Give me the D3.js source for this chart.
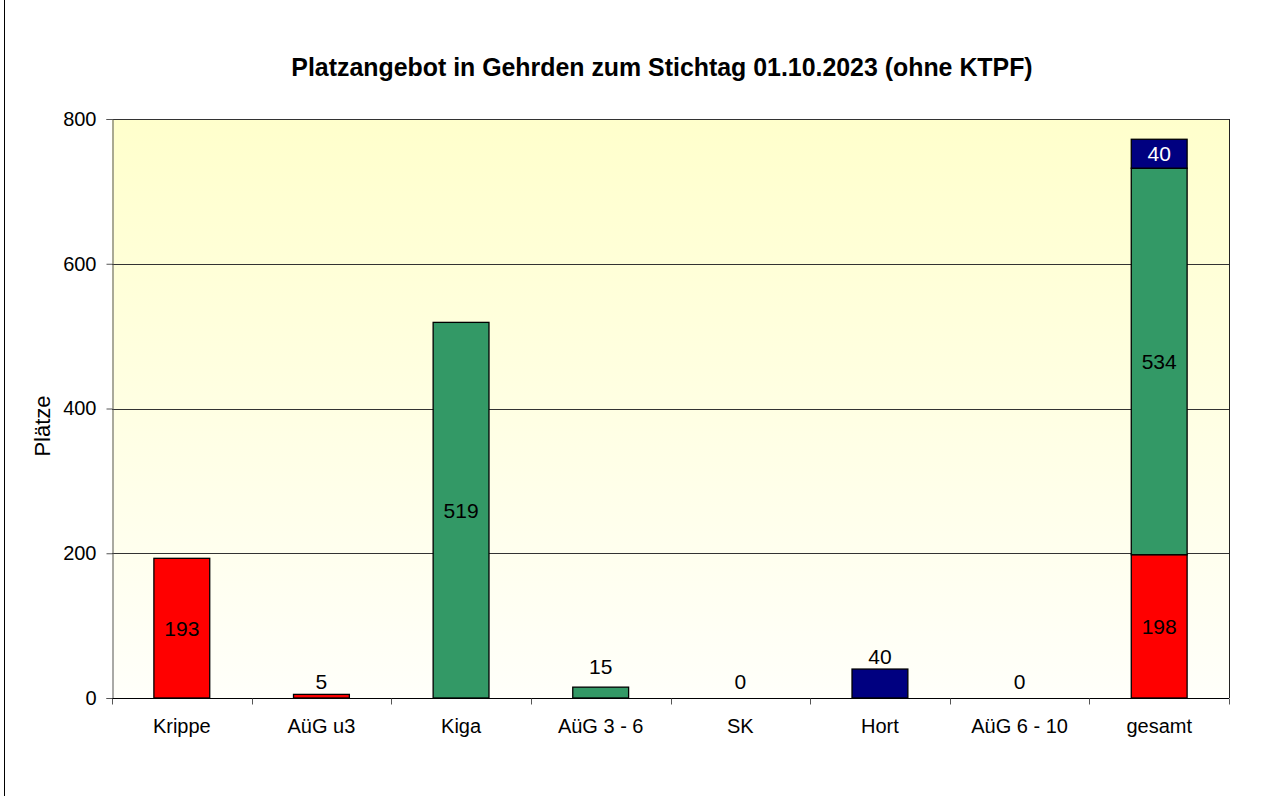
<!DOCTYPE html>
<html>
<head>
<meta charset="utf-8">
<script src="https://cdn.jsdelivr.net/npm/d3@7"></script>
<style>
  body { margin: 0; background: #fff; }
  svg { display: block; font-family: Arial, "Liberation Sans", sans-serif; }
</style>
</head>
<body>
<div id="chart"></div>
<script>
// data
const categories = ['Krippe', 'AüG u3', 'Kiga', 'AüG 3 - 6', 'SK', 'Hort', 'AüG 6 - 10', 'gesamt'];
const groups = ['u3', 'ue3', 'schule'];
const u3Values = [193, 5, 0, 0, 0, 0, 0, 198];
const ue3Values = [0, 0, 519, 15, 0, 0, 0, 534];
const schuleValues = [0, 0, 0, 0, 0, 40, 0, 40];
const yTicks = [0, 200, 400, 600, 800];

const colours = { u3: '#ff0000', ue3: '#339966', schule: '#000080' };

const width = 1287, height = 796;
const margin = { top: 119, right: 58, bottom: 98, left: 112 };

const svg = d3.select('#chart').append('svg')
  .attr('width', width)
  .attr('height', height);

// left frame line
svg.append('line')
  .attr('x1', 4.5).attr('x2', 4.5)
  .attr('y1', 0).attr('y2', height)
  .attr('stroke', '#000').attr('stroke-width', 1);

const defs = svg.append('defs');
const grad = defs.append('linearGradient')
  .attr('id', 'bg').attr('x1', 0).attr('x2', 0).attr('y1', 0).attr('y2', 1);
grad.append('stop').attr('offset', '0%').attr('stop-color', '#ffffcc');
grad.append('stop').attr('offset', '100%').attr('stop-color', '#fffffa');

const x = d3.scaleBand()
  .domain(categories)
  .range([margin.left, width - margin.right])
  .paddingInner(0.6)
  .paddingOuter(0.3);

const xOuter = d3.scaleBand()
  .domain(categories)
  .range([margin.left, width - margin.right]);

const y = d3.scaleLinear()
  .domain([0, 800])
  .range([height - margin.bottom, margin.top]);

// plot background
svg.append('rect')
  .attr('x', margin.left)
  .attr('y', margin.top)
  .attr('width', width - margin.left - margin.right)
  .attr('height', height - margin.top - margin.bottom)
  .attr('fill', 'url(#bg)');

// gridlines
svg.append('g')
  .selectAll('line')
  .data(yTicks.filter(t => t > 0))
  .enter().append('line')
  .attr('x1', margin.left).attr('x2', width - margin.right)
  .attr('y1', t => Math.round(y(t)) + 0.5)
  .attr('y2', t => Math.round(y(t)) + 0.5)
  .attr('stroke', '#333').attr('stroke-width', 1);

// right border
svg.append('line')
  .attr('x1', width - margin.right + 0.5).attr('x2', width - margin.right + 0.5)
  .attr('y1', margin.top).attr('y2', height - margin.bottom)
  .attr('stroke', '#222');

// stacked data
const table = categories.map((c, i) => ({
  cat: c, u3: u3Values[i], ue3: ue3Values[i], schule: schuleValues[i]
}));
const series = d3.stack().keys(groups)(table);

const bars = svg.append('g');
series.forEach(s => {
  bars.selectAll('.bar-' + s.key)
    .data(s.filter(d => d[1] - d[0] > 0))
    .enter().append('rect')
    .attr('class', 'bar-' + s.key)
    .attr('x', d => x(d.data.cat))
    .attr('width', x.bandwidth())
    .attr('y', d => y(d[1]))
    .attr('height', d => y(d[0]) - y(d[1]))
    .attr('fill', colours[s.key])
    .attr('stroke', '#000')
    .attr('stroke-width', 1.3);
});

// labels
const labels = svg.append('g')
  .attr('font-size', 21)
  .attr('text-anchor', 'middle');

series.forEach(s => {
  s.forEach(d => {
    const v = d[1] - d[0];
    const idx = categories.indexOf(d.data.cat);
    const total = u3Values[idx] + ue3Values[idx] + schuleValues[idx];
    const cx = x(d.data.cat) + x.bandwidth() / 2;
    if (total === 0) {
      if (s.key === 'u3') {
        labels.append('text')
          .attr('x', cx).attr('y', y(0) - 9)
          .text('0');
      }
      return;
    }
    if (v <= 0) return;
    const h = y(d[0]) - y(d[1]);
    const stacked = d.data.cat === 'gesamt';
    if (stacked || h > 40) {
      labels.append('text')
        .attr('x', cx)
        .attr('y', (y(d[0]) + y(d[1])) / 2)
        .attr('dy', '0.36em')
        .attr('fill', s.key === 'schule' ? '#fff' : '#000')
        .text(v);
    } else {
      labels.append('text')
        .attr('x', cx)
        .attr('y', y(d[1]) - (v === 15 ? 13 : 5))
        .text(v);
    }
  });
});

// y axis
const yAxis = svg.append('g')
  .attr('transform', `translate(${margin.left + 0.5},0)`)
  .call(d3.axisLeft(y).tickValues(yTicks).tickSize(6).tickPadding(10));
yAxis.select('.domain').attr('stroke', '#555');
yAxis.selectAll('.tick line').attr('stroke', '#555');
yAxis.selectAll('text').attr('font-size', 20).attr('fill', '#000')
  .attr('font-family', 'Arial, "Liberation Sans", sans-serif');

// x axis
const xAxisG = svg.append('g')
  .attr('transform', `translate(0,${height - margin.bottom + 0.5})`);
xAxisG.append('line')
  .attr('x1', margin.left).attr('x2', width - margin.right)
  .attr('stroke', '#000');
xAxisG.selectAll('.xtick')
  .data(categories.concat(['_end']))
  .enter().append('line')
  .attr('x1', (d, i) => Math.round(margin.left + i * xOuter.step()) + 0.5)
  .attr('x2', (d, i) => Math.round(margin.left + i * xOuter.step()) + 0.5)
  .attr('y1', 0).attr('y2', 6)
  .attr('stroke', '#555');
xAxisG.selectAll('.xlabel')
  .data(categories)
  .enter().append('text')
  .attr('x', d => xOuter(d) + xOuter.bandwidth() / 2)
  .attr('y', 34)
  .attr('text-anchor', 'middle')
  .attr('font-size', 20)
  .text(d => d);

// axis title
svg.append('text')
  .attr('transform', 'translate(50,426) rotate(-90)')
  .attr('text-anchor', 'middle')
  .attr('font-size', 22)
  .text('Plätze');

// chart title
svg.append('text')
  .attr('x', 662)
  .attr('y', 76)
  .attr('text-anchor', 'middle')
  .attr('font-size', 24.9)
  .attr('font-weight', 'bold')
  .text('Platzangebot in Gehrden zum Stichtag 01.10.2023 (ohne KTPF)');
</script>
</body>
</html>
